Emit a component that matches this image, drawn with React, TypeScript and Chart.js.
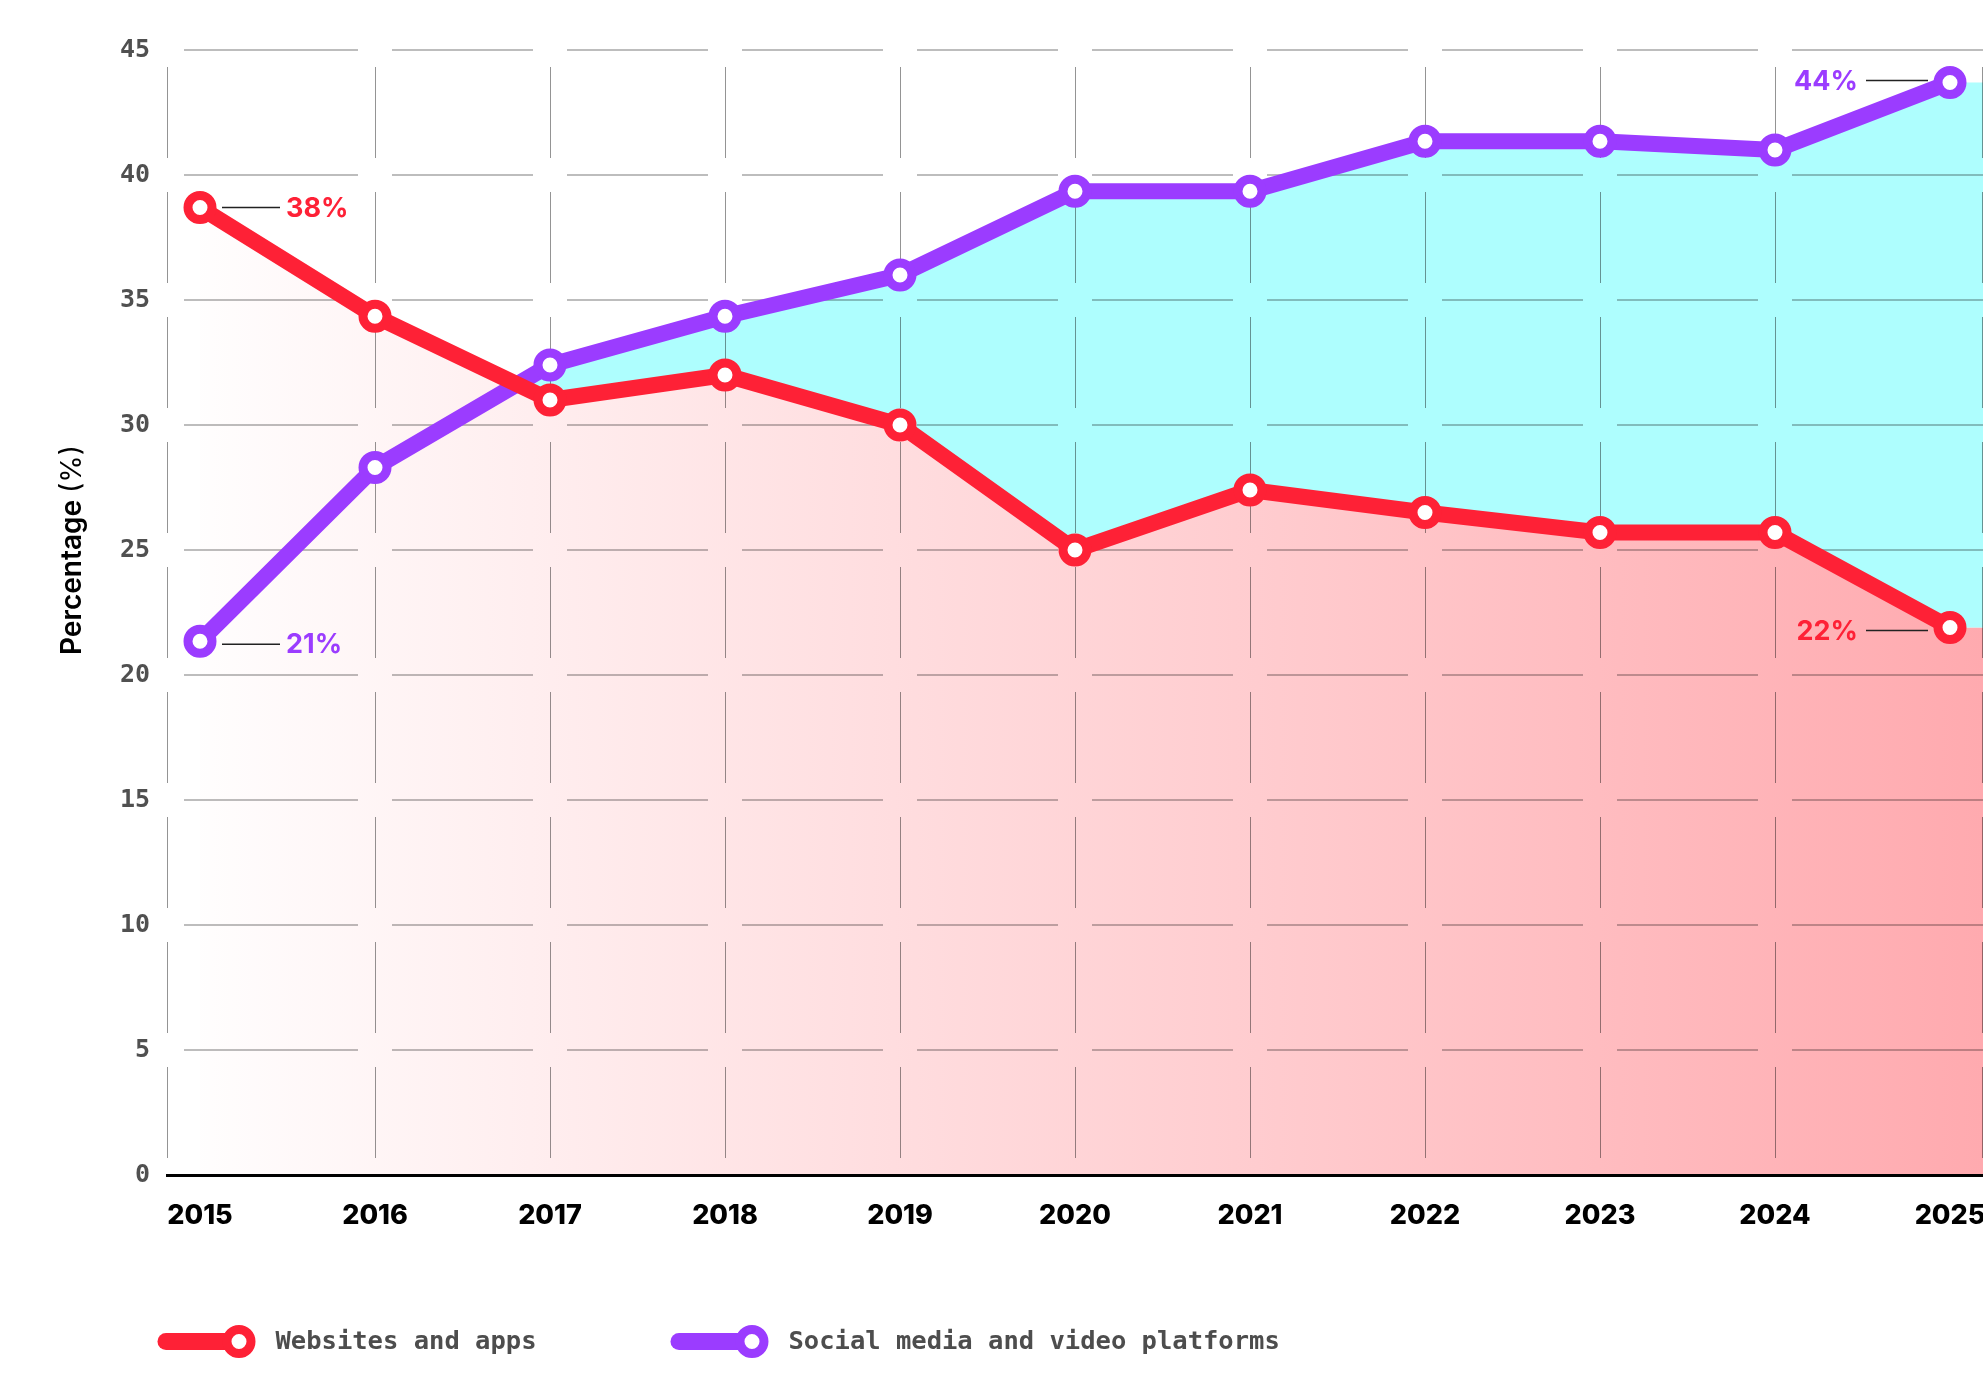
import React, { useEffect, useRef } from 'react';
import { Chart, registerables } from 'chart.js';

Chart.register(...registerables);

// ---------- data ----------
const years = [2015, 2016, 2017, 2018, 2019, 2020, 2021, 2022, 2023, 2024, 2025];
const websitesAndApps = [38.7, 34.35, 31.0, 32.0, 30.0, 25.0, 27.4, 26.5, 25.7, 25.7, 21.9];
const socialMediaAndVideo = [21.35, 28.3, 32.4, 34.35, 36.0, 39.35, 39.35, 41.35, 41.35, 41.0, 43.7];
const seriesNames = ['Websites and apps', 'Social media and video platforms'];
const websitesEndLabels = ['38%', '22%'];
const socialEndLabels = ['21%', '44%'];
const yTickValues = [0, 5, 10, 15, 20, 25, 30, 35, 40, 45];
const yAxisTitle = ['Percentage', '(%)'];

// ---------- styles ----------
const RED = '#fe2136';
const PURPLE = '#9b3cff';
const CYAN = '#aefefe';
const X_EDGE = 33 / 175;
const GAP = 17;

// dataset indices
const SOCIAL = 0;
const WEB = 1;

const makeGradient = (ctx: CanvasRenderingContext2D, area: any) => {
  const g = ctx.createLinearGradient(area.left, 0, area.right, 0);
  g.addColorStop(0, '#ffffff');
  g.addColorStop(1, '#ffaaaf');
  return g;
};

// extends the two filled bands from the last point to the right edge of the plot
const edgeFillPlugin = {
  id: 'edgeFill',
  beforeDraw(chart: any) {
    const { ctx, chartArea: a } = chart;
    const pw = chart.getDatasetMeta(WEB).data[years.length - 1];
    const ps = chart.getDatasetMeta(SOCIAL).data[years.length - 1];
    if (!pw || !ps) return;
    ctx.save();
    ctx.fillStyle = makeGradient(ctx, a);
    ctx.fillRect(pw.x, pw.y, a.right - pw.x, a.bottom - pw.y);
    if (ps.y < pw.y) {
      ctx.fillStyle = CYAN;
      ctx.fillRect(ps.x, ps.y, a.right - ps.x, pw.y - ps.y);
    }
    ctx.restore();
  },
};

const gridPlugin = {
  id: 'segmentedGrid',
  beforeDatasetsDraw(chart: any) {
    const { ctx, chartArea: a, scales } = chart;
    const x = scales.x;
    const y = scales.y;
    const xs = [a.left, ...years.slice(1, -1).map((v) => x.getPixelForValue(v)), a.right];
    const ys = yTickValues.map((v) => y.getPixelForValue(v)).sort((p, q) => p - q);
    ctx.save();
    ctx.strokeStyle = 'rgba(0,0,0,0.26)';
    ctx.lineWidth = 2;
    ys.forEach((py) => {
      if (Math.abs(py - a.bottom) < 1) return;
      ctx.beginPath();
      for (let i = 0; i < xs.length - 1; i++) {
        const s = xs[i] + GAP;
        const e = i === xs.length - 2 ? xs[i + 1] : xs[i + 1] - GAP;
        ctx.moveTo(s, py);
        ctx.lineTo(e, py);
      }
      ctx.stroke();
    });
    ctx.strokeStyle = 'rgba(0,0,0,0.42)';
    ctx.lineWidth = 1;
    xs.forEach((px, i) => {
      const xx = i === xs.length - 1 ? px - 0.5 : Math.round(px) + 0.5;
      ctx.beginPath();
      for (let k = 0; k < ys.length - 1; k++) {
        ctx.moveTo(xx, ys[k] + GAP);
        ctx.lineTo(xx, ys[k + 1] - GAP);
      }
      ctx.stroke();
    });
    ctx.restore();
  },
};

const annotationPlugin = {
  id: 'endAnnotations',
  afterDatasetsDraw(chart: any) {
    const { ctx } = chart;
    const items = [
      { ds: WEB, idx: 0, text: websitesEndLabels[0], side: 'right', dy: 0 },
      { ds: WEB, idx: years.length - 1, text: websitesEndLabels[1], side: 'left', dy: 3 },
      { ds: SOCIAL, idx: 0, text: socialEndLabels[0], side: 'right', dy: 3 },
      { ds: SOCIAL, idx: years.length - 1, text: socialEndLabels[1], side: 'left', dy: -2 },
    ];
    ctx.save();
    ctx.font = '700 27px Inter';
    ctx.textBaseline = 'middle';
    items.forEach((it) => {
      const p = chart.getDatasetMeta(it.ds).data[it.idx];
      const color = chart.data.datasets[it.ds].borderColor;
      const yy = p.y + it.dy;
      ctx.strokeStyle = '#222';
      ctx.lineWidth = 1.5;
      ctx.beginPath();
      if (it.side === 'right') {
        ctx.moveTo(p.x + 22, yy);
        ctx.lineTo(p.x + 80, yy);
      } else {
        ctx.moveTo(p.x - 84, yy);
        ctx.lineTo(p.x - 22, yy);
      }
      ctx.stroke();
      ctx.fillStyle = color;
      if (it.side === 'right') {
        ctx.textAlign = 'left';
        ctx.fillText(it.text, p.x + 86, yy + 1);
      } else {
        ctx.textAlign = 'right';
        ctx.fillText(it.text, p.x - 92, yy + 1);
      }
    });
    ctx.restore();
  },
};

const legendAndTitlePlugin = {
  id: 'customLegendTitle',
  afterDraw(chart: any) {
    const { ctx } = chart;
    ctx.save();
    // legend (in drawing-priority order: lowest `order` first)
    const dsList = [...chart.data.datasets].sort((p: any, q: any) => (p.order || 0) - (q.order || 0));
    let cx = 158;
    const cy = 1341.5;
    ctx.font = 'bold 25.5px "DejaVu Sans Mono"';
    ctx.textBaseline = 'middle';
    ctx.textAlign = 'left';
    dsList.forEach((ds: any) => {
      ctx.strokeStyle = ds.borderColor;
      ctx.lineWidth = 17;
      ctx.lineCap = 'round';
      ctx.beginPath();
      ctx.moveTo(cx + 8, cy);
      ctx.lineTo(cx + 81, cy);
      ctx.stroke();
      ctx.lineCap = 'butt';
      ctx.beginPath();
      ctx.arc(cx + 81, cy, 12, 0, Math.PI * 2);
      ctx.fillStyle = '#fff';
      ctx.fill();
      ctx.lineWidth = 9;
      ctx.stroke();
      ctx.fillStyle = '#4d4d4d';
      const tx = cx + 117.5;
      ctx.fillText(ds.label, tx, cy + 1);
      cx = tx + ctx.measureText(ds.label).width + 134.5;
    });
    // y-axis title
    ctx.translate(72.5, 550);
    ctx.rotate(-Math.PI / 2);
    ctx.fillStyle = '#000';
    ctx.textBaseline = 'middle';
    ctx.font = '600 28px Inter';
    const w1 = ctx.measureText(yAxisTitle[0] + ' ').width;
    ctx.font = '400 28px Inter';
    const w2 = ctx.measureText(yAxisTitle[1]).width;
    const start = -(w1 + w2) / 2;
    ctx.textAlign = 'left';
    ctx.font = '600 28px Inter';
    ctx.fillText(yAxisTitle[0], start, 0);
    ctx.font = '400 28px Inter';
    ctx.fillText(yAxisTitle[1], start + w1, 0);
    ctx.restore();
  },
};

export default function App() {
  const canvasRef = useRef<HTMLCanvasElement | null>(null);

  useEffect(() => {
    const canvas = canvasRef.current;
    if (!canvas) return;
    const pointStyle = {
      pointRadius: 12,
      pointHoverRadius: 12,
      pointBorderWidth: 9,
      pointHoverBorderWidth: 9,
      pointBackgroundColor: '#ffffff',
      borderWidth: 16,
      borderJoinStyle: 'round',
      tension: 0,
    };
    const chart = new Chart(canvas, {
      type: 'line',
      data: {
        datasets: [
          {
            label: seriesNames[1],
            data: years.map((yr, i) => ({ x: yr, y: socialMediaAndVideo[i] })),
            borderColor: PURPLE,
            pointBorderColor: PURPLE,
            backgroundColor: CYAN,
            fill: { target: WEB, above: CYAN, below: 'rgba(0,0,0,0)' },
            order: 2,
            ...pointStyle,
          } as any,
          {
            label: seriesNames[0],
            data: years.map((yr, i) => ({ x: yr, y: websitesAndApps[i] })),
            borderColor: RED,
            pointBorderColor: RED,
            backgroundColor: (context: any) => {
              const { ctx, chartArea } = context.chart;
              if (!chartArea) return 'rgba(255,170,175,0.5)';
              return makeGradient(ctx, chartArea);
            },
            fill: 'origin',
            order: 1,
            ...pointStyle,
          } as any,
        ],
      },
      options: {
        responsive: false,
        animation: false,
        devicePixelRatio: 1,
        layout: { autoPadding: false, padding: { top: 50, left: 0, right: 0, bottom: 0 } },
        plugins: {
          legend: { display: false },
          tooltip: { enabled: false },
          filler: { drawTime: 'beforeDraw' },
        } as any,
        scales: {
          x: {
            type: 'linear',
            min: years[0] - X_EDGE,
            max: years[years.length - 1] + X_EDGE,
            afterBuildTicks: (scale: any) => {
              scale.ticks = years.map((v) => ({ value: v }));
            },
            afterFit: (scale: any) => {
              scale.height = 225;
              scale.paddingLeft = 0;
              scale.paddingRight = 0;
            },
            grid: { display: false, drawTicks: false },
            border: { display: true, color: '#000', width: 3 },
            ticks: {
              autoSkip: false,
              maxRotation: 0,
              padding: 27,
              color: '#000',
              font: { family: 'Inter', size: 27, weight: '800', lineHeight: 1 },
              callback: (v: any) => String(v),
            },
          },
          y: {
            type: 'linear',
            min: 0,
            max: 45,
            afterBuildTicks: (scale: any) => {
              scale.ticks = yTickValues.map((v) => ({ value: v }));
            },
            afterFit: (scale: any) => {
              scale.width = 167;
            },
            grid: { display: false, drawTicks: false },
            border: { display: false },
            ticks: {
              padding: 17,
              color: '#505050',
              font: { family: 'DejaVu Sans Mono', size: 25, weight: 'bold' },
              callback: (v: any) => String(v),
            },
          },
        },
      } as any,
      plugins: [edgeFillPlugin, gridPlugin, annotationPlugin, legendAndTitlePlugin],
    });
    return () => chart.destroy();
  }, []);

  return (
    <div style={{ position: 'absolute', left: 0, top: 0, width: 1983, height: 1400, background: '#fff' }}>
      <canvas ref={canvasRef} width={1983} height={1400} style={{ display: 'block' }} />
    </div>
  );
}
